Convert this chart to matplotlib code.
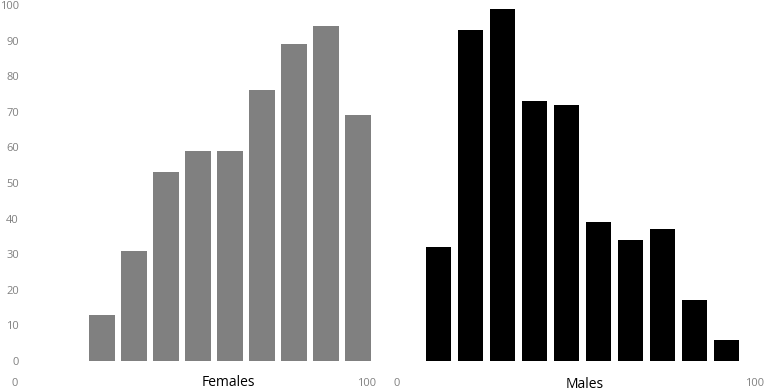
import matplotlib.pyplot as plt

# values
females = [13, 31, 53, 59, 59, 76, 89, 94, 69]
males = [32, 93, 99, 73, 72, 39, 34, 37, 17, 6]
yticks = list(range(0, 101, 10))

W, H = 778, 391
fig = plt.figure(figsize=(W / 100, H / 100), dpi=100)
plt.rcParams['font.family'] = ['Open Sans', 'DejaVu Sans']


def px_ax(x0, x1):
    # axes box given in pixel columns, y from 0 (y=361) to 100 (y=5)
    return fig.add_axes([x0 / W, (H - 361) / H, (x1 - x0) / W, 356 / H])


def clean(ax):
    for s in ax.spines.values():
        s.set_visible(False)
    ax.set_xticks([])
    ax.set_ylim(0, 100)


# ---- Females ----
ax1 = px_ax(35, 375)
ax1.bar(range(len(females)), females, width=0.8, color='#808080')
c0 = 102  # pixel center of first bar, pitch 32 px
ax1.set_xlim((35 - c0) / 32, (375 - c0) / 32)
clean(ax1)
ax1.set_yticks(yticks)
ax1.set_yticklabels([str(v) for v in yticks], fontsize=8, color='#808080')
ax1.tick_params(axis='y', length=0, pad=11.5)

# ---- Males ----
ax2 = px_ax(400, 775)
ax2.bar(range(len(males)), males, width=0.8, color='black')
c0 = 438.5
ax2.set_xlim((400 - c0) / 32, (775 - c0) / 32)
clean(ax2)
ax2.set_yticks([])

ty = 1 - 383 / H
for x, s in [(15, '0'), (367, '100'), (397, '0'), (755, '100')]:
    fig.text(x / W, ty, s, ha='center', va='center', fontsize=8, color='#808080')
fig.text(228 / W, ty, 'Females', ha='center', va='center', fontsize=10, color='black')
fig.text(585 / W, ty - 0.005, 'Males', ha='center', va='center', fontsize=10, color='black')

fig.savefig('out.png', dpi=100)
